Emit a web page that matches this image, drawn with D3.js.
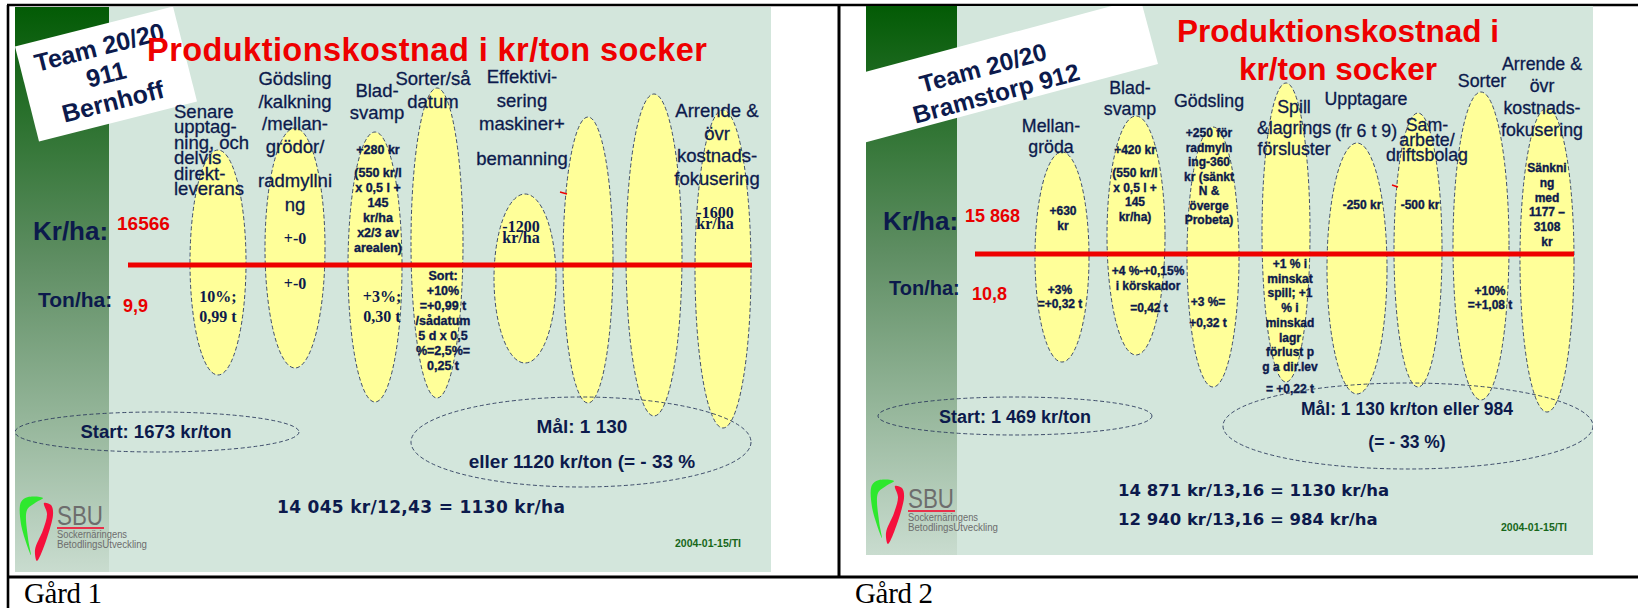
<!DOCTYPE html>
<html>
<head>
<meta charset="utf-8">
<script src="https://cdn.jsdelivr.net/npm/d3@7"></script>
<style>
body { margin: 0; background: #fff; }
svg { display: block; }
text { font-family: "Liberation Sans", Arial, sans-serif; fill: #0c1a4c; }
.mid { text-anchor: middle; }
.fet { font-weight: bold; }
.rub { stroke: #0c1a4c; stroke-width: 0.3; }
.tung { stroke: #0c1a4c; stroke-width: 0.35; }
.tim { font-family: "Liberation Serif", "Times New Roman", serif; font-weight: bold; text-anchor: middle; }
.rod { fill: #e80000; font-weight: bold; }
.form { font-family: "DejaVu Sans", Verdana, sans-serif; font-weight: bold; }
.gard { font-family: "Liberation Serif", "Times New Roman", serif; fill: #000; }
</style>
</head>
<body>
<svg id="chart" width="1638" height="608"></svg>
<script>
// ---------- Gård 1 : Team 20/20 911 Bernhoff ----------
var g1Team = ["Team 20/20", "911", "Bernhoff"];
var g1Titel = ["Produktionskostnad i kr/ton socker"];
var g1Nyckel = ["Kr/ha:", "Ton/ha:"];
var g1Varden = ["16566", "9,9"];
var g1Rubriker = [
  ["Senare", "upptag-", "ning, och", "delvis", "direkt-", "leverans"],
  ["Gödsling", "/kalkning", "/mellan-", "grödor/", "radmyllni", "ng"],
  ["Blad-", "svamp"],
  ["Sorter/så", "datum"],
  ["Effektivi-", "sering", "maskiner+", "bemanning"],
  [],
  [],
  ["Arrende &", "övr", "kostnads-", "fokusering"]
];
// ellipser (enheter = bildpunkter i bilden, räknat från bildens övre vänstra hörn)
var g1Mitt   = [203, 280, 360, 422, 510, 573, 639, 708];
var g1Topp   = [143, 121, 125,  81, 187, 110,  87, 103];
var g1Botten = [368, 361, 395, 391, 356, 396, 409, 421];
var g1Bredd  = [ 56,  60,  54,  52,  62,  50,  56,  56];
var g1Kostnad = [
  [], ["+-0"],
  ["+280 kr", "(550 kr/l", "x 0,5 l +", "145", "kr/ha", "x2/3 av", "arealen)"],
  [], ["-1200", "kr/ha"], [], [], ["-1600", "kr/ha"]
];
var g1Skord = [
  ["10%;", "0,99 t"], ["+-0"], ["+3%;", "0,30 t"],
  ["Sort:", "+10%", "=+0,99 t", "/sådatum", "5 d x 0,5", "%=2,5%=", "0,25 t"],
  [], [], [], []
];
var g1Start = ["Start: 1673 kr/ton"];
var g1Mal = ["Mål: 1 130", "eller 1120 kr/ton (= - 33 %"];
var g1Formel = ["14 045 kr/12,43 = 1130 kr/ha"];

// ---------- Gård 2 : Team 20/20 Bramstorp 912 ----------
var g2Team = ["Team 20/20", "Bramstorp 912"];
var g2Titel = ["Produktionskostnad i", "kr/ton socker"];
var g2Nyckel = ["Kr/ha:", "Ton/ha:"];
var g2Varden = ["15 868", "10,8"];
var g2Rubriker = [
  ["Mellan-", "gröda"],
  ["Blad-", "svamp"],
  ["Gödsling"],
  ["Spill", "&lagrings", "försluster"],
  ["Upptagare", "(fr 6 t 9)"],
  ["Sam-", "arbete/", "driftsbolag"],
  ["Sorter"],
  ["Arrende &", "övr", "kostnads-", "fokusering"]
];
var g2Mitt   = [196, 270, 347, 420, 491, 552, 615, 681];
var g2Topp   = [146, 110, 121,  77, 137, 107,  86, 102];
var g2Botten = [356, 349, 381, 376, 388, 381, 394, 406];
var g2Bredd  = [ 54,  58,  52,  48,  60,  48,  56,  54];
var g2Kostnad = [
  ["+630", "kr"],
  ["+420 kr", "(550 kr/l", "x 0,5 l +", "145", "kr/ha)"],
  ["+250 för", "radmyln", "ing-360", "kr (sänkt", "N &", "överge", "Probeta)"],
  [], ["-250 kr"], ["-500 kr"], [],
  ["Sänkni", "ng", "med", "1177 –", "3108", "kr"]
];
var g2Skord = [
  ["+3%", "=+0,32 t"],
  ["+4 %-+0,15%", "i körskador", "=0,42 t"],
  ["+3 %=", "+0,32 t"],
  ["+1 % i", "minskat", "spill; +1", "% i", "minskad", "lagr", "förlust p", "g a dir.lev", "= +0,22 t"],
  [], [], ["+10%", "=+1,08 t"], []
];
var g2Start = ["Start: 1 469 kr/ton"];
var g2Mal = ["Mål: 1 130 kr/ton eller 984", "(= - 33 %)"];
var g2Formel = ["14 871 kr/13,16 = 1130 kr/ha", "12 940 kr/13,16 = 984 kr/ha"];

var gardar = ["Gård 1", "Gård 2"];
var datum = "2004-01-15/TI";

var svg = d3.select("#chart");
var defs = svg.append("defs");
var grad = defs.append("linearGradient").attr("id", "band")
  .attr("x1", 0).attr("y1", 0).attr("x2", 0).attr("y2", 1);
grad.append("stop").attr("offset", 0).attr("stop-color", "#035b05");
grad.append("stop").attr("offset", 0.45).attr("stop-color", "#5f8e63");
grad.append("stop").attr("offset", 1).attr("stop-color", "#c9dccf");

// tabellram
svg.append("g").attr("stroke", "#000").selectAll("line")
  .data([[8, 5, 8, 608, 2.6], [7, 5, 1638, 5, 2.6], [839, 5, 839, 577, 3], [7, 577, 1638, 577, 3]])
  .join("line")
  .attr("x1", d => d[0]).attr("y1", d => d[1]).attr("x2", d => d[2]).attr("y2", d => d[3])
  .attr("stroke-width", d => d[4]);
svg.selectAll("text.gard").data(gardar).join("text").attr("class", "gard")
  .attr("x", (d, i) => i ? 855 : 24).attr("y", 603)
  .style("font-size", "29px").attr("textLength", 78).text(d => d);

function bild(o) {
  var s = {};
  s.w = o.w; s.h = o.h;
  s.x = d3.scaleLinear().domain([0, o.w]).range([o.x0, o.x0 + o.w]);
  s.y = d3.scaleLinear().domain([0, o.h]).range([o.y0, o.y0 + o.h]);
  defs.append("clipPath").attr("id", "klipp" + o.id).append("rect")
    .attr("x", s.x(0)).attr("y", s.y(0)).attr("width", o.w).attr("height", o.h);
  s.g = svg.append("g").attr("clip-path", "url(#klipp" + o.id + ")");
  s.g.append("rect").attr("x", s.x(0)).attr("y", s.y(0))
    .attr("width", o.w).attr("height", o.h).attr("fill", "#d3e6dc");
  s.g.append("rect").attr("x", s.x(0)).attr("y", s.y(0))
    .attr("width", o.band).attr("height", o.h).attr("fill", "url(#band)");
  return s;
}

function block(s, lines, px, py, dy, cls, size) {
  s.g.append("text").attr("class", cls).style("font-size", size + "px")
    .selectAll("tspan").data(lines).join("tspan")
    .attr("x", s.x(px)).attr("y", (d, i) => s.y(py + i * dy)).text(d => d);
}

function ellipser(s, mitt, topp, botten, bredd) {
  s.g.append("g").selectAll("ellipse").data(mitt).join("ellipse")
    .attr("cx", d => s.x(d))
    .attr("cy", (d, i) => (s.y(topp[i]) + s.y(botten[i])) / 2)
    .attr("rx", (d, i) => (s.x(bredd[i]) - s.x(0)) / 2)
    .attr("ry", (d, i) => (s.y(botten[i]) - s.y(topp[i])) / 2)
    .attr("fill", "#ffff99").attr("stroke", "#2d3b5e")
    .attr("stroke-width", 0.9).attr("stroke-dasharray", "4,2.5");
}

function ring(s, cx, cy, rx, ry) {
  s.g.append("ellipse").attr("cx", s.x(cx)).attr("cy", s.y(cy))
    .attr("rx", rx).attr("ry", ry).attr("fill", "none")
    .attr("stroke", "#2d3b5e").attr("stroke-width", 0.9).attr("stroke-dasharray", "4,2.5");
}

function rodLinje(s, a, b, yy) {
  s.g.append("line").attr("x1", s.x(a)).attr("x2", s.x(b))
    .attr("y1", s.y(yy)).attr("y2", s.y(yy))
    .attr("stroke", "#ee0000").attr("stroke-width", 5);
}

function logga(s) {
  var L = s.g.append("g").attr("transform", "translate(" + s.x(0) + "," + s.y(s.h) + ")");
  var kurva = d3.line().curve(d3.curveCatmullRomClosed);
  L.append("path").attr("d", kurva([[28, -74], [13, -75], [6, -70], [6, -48], [16, -17], [13, -34], [12, -62], [20, -69]]))
    .attr("fill", "#2ee82e");
  L.append("path").attr("d", kurva([[29, -69], [36, -67], [38, -57], [22, -11], [20, -22], [28, -42], [32, -58]]))
    .attr("fill", "#f5103c");
  L.append("text").attr("x", 42).attr("y", -47).style("font-size", "27px")
    .style("fill", "#6d6d6d").attr("textLength", 46).attr("lengthAdjust", "spacingAndGlyphs").text("SBU");
  L.append("rect").attr("x", 42).attr("y", -45).attr("width", 47).attr("height", 2).attr("fill", "#e8304a");
  L.append("text").attr("x", 42).attr("y", -34).style("font-size", "10px").style("fill", "#6d6d6d")
    .attr("textLength", 70).attr("lengthAdjust", "spacingAndGlyphs").text("Sockernäringens");
  L.append("text").attr("x", 42).attr("y", -24).style("font-size", "10px").style("fill", "#6d6d6d")
    .attr("textLength", 90).attr("lengthAdjust", "spacingAndGlyphs").text("BetodlingsUtveckling");
}

function datumText(s, px, py) {
  s.g.append("text").attr("x", s.x(px)).attr("y", s.y(py)).attr("class", "fet")
    .style("font-size", "10px").style("fill", "#17661a")
    .attr("textLength", 66).attr("lengthAdjust", "spacingAndGlyphs").text(datum);
}

// ================= Bild 1 =================
var s1 = bild({id: 1, x0: 15, y0: 7, w: 756, h: 565, band: 94});

var b1 = s1.g.append("g").attr("transform", "translate(" + s1.x(91) + "," + s1.y(67) + ") rotate(-14.2)");
b1.append("rect").attr("x", -81.5).attr("y", -49).attr("width", 163).attr("height", 98).attr("fill", "#fff");
b1.append("text").attr("class", "fet mid").style("font-size", "25px")
  .selectAll("tspan").data(g1Team).join("tspan")
  .attr("x", 0).attr("y", (d, i) => -19 + i * 28).text(d => d);

s1.g.append("text").attr("class", "fet").style("fill", "#ee0000").style("font-size", "32.5px")
  .attr("x", s1.x(132)).attr("y", s1.y(54)).attr("textLength", 560).text(g1Titel[0]);

ellipser(s1, g1Mitt, g1Topp, g1Botten, g1Bredd);
rodLinje(s1, 113, 737, 258);
s1.g.append("line").attr("x1", s1.x(545)).attr("y1", s1.y(185)).attr("x2", s1.x(552)).attr("y2", s1.y(187))
  .attr("stroke", "#ee0000").attr("stroke-width", 1.5);

block(s1, [g1Nyckel[0]], 18, 233, 0, "fet", 26);
block(s1, [g1Nyckel[1]], 23, 300, 0, "fet", 21);
block(s1, [g1Varden[0]], 102, 223, 0, "rod", 19);
block(s1, [g1Varden[1]], 108, 305, 0, "rod", 18);

block(s1, g1Rubriker[0], 159, 111, 15.4, "rub", 18.5);
block(s1, g1Rubriker[1].slice(0, 4), 280, 78, 22.7, "mid rub", 18.5);
block(s1, g1Rubriker[1].slice(4), 280, 180, 24, "mid rub", 18.5);
block(s1, g1Rubriker[2], 362, 90, 22, "mid rub", 18.5);
block(s1, g1Rubriker[3], 418, 78, 23, "mid rub", 18.5);
block(s1, g1Rubriker[4].slice(0, 3), 507, 76, 23.5, "mid rub", 18.5);
block(s1, g1Rubriker[4].slice(3), 507, 158, 0, "mid rub", 18.5);
block(s1, g1Rubriker[7], 702, 110, 22.7, "mid rub", 18.5);

block(s1, g1Skord[0], 203, 295, 20, "tim", 16);
block(s1, g1Kostnad[1], 280, 237, 0, "tim", 16);
block(s1, g1Skord[1], 280, 282, 0, "tim", 16);
block(s1, g1Kostnad[2].slice(0, 1), 363, 147, 0, "fet mid tung", 12.5);
block(s1, g1Kostnad[2].slice(1), 363, 170, 15, "fet mid tung", 12.5);
block(s1, g1Skord[2], 367, 295, 20, "tim", 16);
block(s1, g1Skord[3], 428, 273, 15, "fet mid tung", 12.5);
block(s1, g1Kostnad[4], 506, 225, 11, "tim", 16);
block(s1, g1Kostnad[7], 700, 211, 11, "tim", 16);

ring(s1, 142, 425, 142, 20);
ring(s1, 566, 435, 170, 45);
block(s1, g1Start, 141, 431, 0, "fet mid", 18.5);
block(s1, g1Mal, 567, 426, 35, "fet mid", 19);
s1.g.append("text").attr("class", "form").style("font-size", "17px")
  .attr("x", s1.x(262)).attr("y", s1.y(506)).attr("textLength", 288).text(g1Formel[0]);
logga(s1);
datumText(s1, 660, 540);

// ================= Bild 2 =================
var s2 = bild({id: 2, x0: 866, y0: 6, w: 727, h: 549, band: 91});

var b2 = s2.g.append("g").attr("transform", "translate(" + s2.x(292) + "," + s2.y(58) + ") rotate(-15)");
b2.append("rect").attr("x", -420).attr("y", -68).attr("width", 420).attr("height", 68).attr("fill", "#fff");
b2.append("text").attr("class", "fet mid").style("font-size", "24.5px")
  .selectAll("tspan").data(g2Team).join("tspan")
  .attr("x", (d, i) => i ? -164 : -170).attr("y", (d, i) => i ? -5 : -33).text(d => d);

s2.g.append("text").attr("class", "fet mid").style("fill", "#ee0000").style("font-size", "31.5px")
  .selectAll("tspan").data(g2Titel).join("tspan")
  .attr("x", s2.x(472)).attr("y", (d, i) => s2.y(36 + i * 38)).text(d => d);

ellipser(s2, g2Mitt, g2Topp, g2Botten, g2Bredd);
rodLinje(s2, 109, 708, 248);
s2.g.append("line").attr("x1", s2.x(526)).attr("y1", s2.y(179)).attr("x2", s2.x(532)).attr("y2", s2.y(181))
  .attr("stroke", "#ee0000").attr("stroke-width", 1.5);

block(s2, [g2Nyckel[0]], 17, 224, 0, "fet", 26);
block(s2, [g2Nyckel[1]], 23, 289, 0, "fet", 20);
block(s2, [g2Varden[0]], 99, 216, 0, "rod", 18);
block(s2, [g2Varden[1]], 106, 294, 0, "rod", 18);

block(s2, g2Rubriker[0], 185, 126, 21, "mid rub", 17.8);
block(s2, g2Rubriker[1], 264, 88, 21, "mid rub", 17.8);
block(s2, g2Rubriker[2], 343, 101, 0, "mid rub", 17.8);
block(s2, g2Rubriker[3], 428, 107, 21, "mid rub", 17.8);
block(s2, g2Rubriker[4], 500, 99, 32, "mid rub", 17.8);
block(s2, g2Rubriker[5], 561, 125, 15, "mid rub", 17.8);
block(s2, g2Rubriker[6], 616, 81, 0, "mid rub", 17.8);
block(s2, g2Rubriker[7], 676, 64, 22, "mid rub", 17.8);

block(s2, g2Kostnad[0], 197, 209, 15, "fet mid tung", 12);
block(s2, g2Skord[0], 194, 288, 14, "fet mid tung", 12);
block(s2, g2Kostnad[1].slice(0, 1), 269, 148, 0, "fet mid tung", 12);
block(s2, g2Kostnad[1].slice(1), 269, 171, 14.7, "fet mid tung", 12);
block(s2, g2Skord[1].slice(0, 2), 282, 269, 15, "fet mid tung", 12);
block(s2, g2Skord[1].slice(2), 283, 306, 0, "fet mid tung", 12);
block(s2, g2Kostnad[2], 343, 131, 14.5, "fet mid tung", 12);
block(s2, g2Skord[2], 342, 300, 21, "fet mid tung", 12);
block(s2, g2Skord[3].slice(0, 8), 424, 262, 14.7, "fet mid tung", 12);
block(s2, g2Skord[3].slice(8), 424, 387, 0, "fet mid tung", 12);
block(s2, g2Kostnad[4], 496, 203, 0, "fet mid tung", 12);
block(s2, g2Kostnad[5], 554, 203, 0, "fet mid tung", 12);
block(s2, g2Skord[6], 624, 289, 13.5, "fet mid tung", 12);
block(s2, g2Kostnad[7], 681, 166, 14.8, "fet mid tung", 12);

ring(s2, 149, 410, 137, 19);
ring(s2, 542, 420, 185, 43);
block(s2, g2Start, 149, 417, 0, "fet mid", 18);
block(s2, g2Mal, 541, 409, 33, "fet mid", 17.5);
s2.g.append("text").attr("class", "form").style("font-size", "16.5px")
  .selectAll("tspan").data(g2Formel).join("tspan")
  .attr("x", s2.x(252)).attr("y", (d, i) => s2.y(490 + i * 29)).text(d => d);
logga(s2);
datumText(s2, 635, 525);
</script>
</body>
</html>
